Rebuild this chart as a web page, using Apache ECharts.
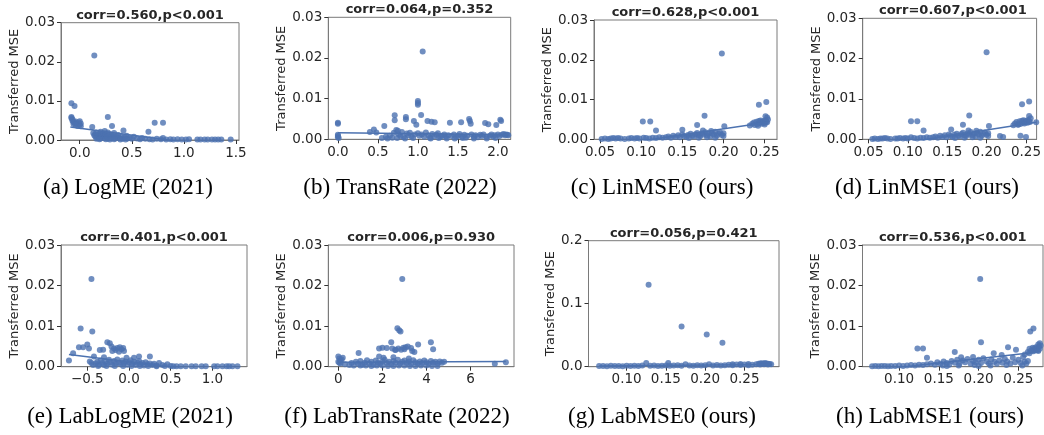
<!DOCTYPE html>
<html>
<head>
<meta charset="utf-8">
<script src="https://cdn.jsdelivr.net/npm/echarts@6/dist/echarts.min.js"></script>
<style>
html,body{margin:0;padding:0;background:#fff;}
#c{width:1044px;height:435px;}
</style>
</head>
<body>
<div id="c"></div>
<script>
// ---- Data ----
const corrTitles = ["corr=0.560,p<0.001","corr=0.064,p=0.352","corr=0.628,p<0.001","corr=0.607,p<0.001",
                    "corr=0.401,p<0.001","corr=0.006,p=0.930","corr=0.056,p=0.421","corr=0.536,p<0.001"];
const captions = ["(a) LogME (2021)","(b) TransRate (2022)","(c) LinMSE0 (ours)","(d) LinMSE1 (ours)",
                  "(e) LabLogME (2021)","(f) LabTransRate (2022)","(g) LabMSE0 (ours)","(h) LabMSE1 (ours)"];
const yLabel = "Transferred MSE";

const xTicksA = [0, 0.5, 1.0, 1.5];
const xTicksB = [0, 0.5, 1.0, 1.5, 2.0];
const xTicksC = [0.05, 0.10, 0.15, 0.20, 0.25];
const xTicksD = [0.05, 0.10, 0.15, 0.20, 0.25];
const xTicksE = [-0.5, 0, 0.5, 1.0];
const xTicksF = [0, 2, 4, 6];
const xTicksG = [0.10, 0.15, 0.20, 0.25];
const xTicksH = [0.10, 0.15, 0.20, 0.25];

const ptsA = [[-0.08,0.0094],[-0.05,0.0087],[-0.08,0.0059],[-0.08,0.0056],[-0.07,0.0053],[-0.07,0.0049],[-0.06,0.0046],[-0.05,0.0044],[-0.04,0.0047],[-0.03,0.0043],[-0.02,0.0041],[-0.01,0.0045],[0.0,0.0048],[0.0,0.0039],[0.01,0.0042],[-0.06,0.0041],[-0.04,0.0039],[-0.02,0.0036],[0.01,0.0035],
[0.14,0.0216],[0.12,0.0033],[0.27,0.0059],[0.31,0.0036],[0.42,0.0024],[0.66,0.0021],[0.72,0.0044],[0.8,0.0044],[0.24,0.0023],[0.2,0.0021],
[0.13,0.0018],[0.14,0.0012],[0.15,0.0015],[0.15,0.0009],[0.16,0.0019],[0.17,0.0011],[0.17,0.0006],[0.18,0.0014],[0.19,0.0008],[0.2,0.0016],[0.2,0.0004],[0.21,0.0012],[0.22,0.0009],[0.23,0.0017],[0.23,0.0005],[0.24,0.0011],[0.25,0.0014],[0.26,0.0007],[0.27,0.0019],[0.27,0.0003],[0.28,0.001],[0.29,0.0015],[0.3,0.0006],[0.31,0.0012],[0.32,0.0008],[0.33,0.0018],[0.34,0.0004],[0.35,0.001],[0.36,0.0007],[0.37,0.0013],[0.38,0.0005],[0.4,0.0009],[0.41,0.0003],[0.43,0.0007],[0.45,0.0011],[0.46,0.0004],[0.48,0.0006],[0.5,0.0003],[0.52,0.0008],[0.55,0.0004],[0.58,0.0002],[0.6,0.0005],[0.63,0.0003],[0.16,0.0003],[0.19,0.0002],[0.25,0.0002],[0.29,0.0001],[0.33,0.0002],[0.39,0.0001],[0.44,0.0001],
[0.67,0.0002],[0.7,0.0001],[0.74,0.0003],[0.78,0.0002],[0.8,0.0005],[0.83,0.0001],[0.87,0.0002],[0.9,0.0001],[0.94,0.0002],[0.98,0.0001],[1.02,0.0001],[1.05,0.0002],[1.13,0.0001],[1.16,0.0001],[1.2,0.0001],[1.23,0.0001],[1.27,0.0001],[1.3,0.0001],[1.33,0.0001],[1.36,0.0001],[1.45,0.0001]];
const lineA = [[-0.09,0.0033],[1.45,-0.0021]];

const ptsB = [[0.0,0.0041],[0.0,0.0038],[0.0,0.0011],[0.0,0.0008],[0.0,0.0005],[0.01,0.0003],
[0.4,0.0018],[0.45,0.0024],[0.48,0.0017],[0.55,0.0003],[0.58,0.0033],[0.6,0.0006],[0.65,0.0009],[0.68,0.0004],[0.7,0.0016],[0.71,0.0059],[0.71,0.0047],[0.73,0.0023],[0.75,0.0021],[0.76,0.0012],[0.78,0.0008],[0.8,0.0018],[0.82,0.0005],[0.85,0.0055],[0.85,0.0049],[0.86,0.0014],[0.88,0.001],[0.9,0.0016],[0.92,0.0007],[0.95,0.0045],[0.96,0.0012],[0.98,0.0036],[1.0,0.0094],[1.0,0.0089],[1.0,0.0085],[1.0,0.0015],[1.02,0.0009],[1.04,0.006],[1.06,0.0216],[1.05,0.0012],[1.08,0.0006],[1.1,0.0017],[1.12,0.0045],[1.13,0.001],[1.15,0.0004],[1.17,0.0043],[1.18,0.0013],[1.2,0.0007],[1.21,0.0042],[1.23,0.0011],[1.25,0.0015],[1.28,0.0005],[1.3,0.0009],[1.33,0.0012],[1.35,0.0006],[1.38,0.001],[1.4,0.0041],[1.42,0.0008],[1.45,0.0012],[1.48,0.0005],[1.5,0.0009],[1.52,0.0013],[1.54,0.0042],[1.55,0.0007],[1.58,0.0011],[1.6,0.0004],[1.62,0.0009],[1.64,0.005],[1.65,0.0045],[1.66,0.0038],[1.67,0.0012],[1.7,0.0007],[1.72,0.001],[1.75,0.0005],[1.78,0.0011],[1.8,0.0008],[1.82,0.0012],[1.84,0.004],[1.86,0.0006],[1.88,0.0037],[1.9,0.0009],[1.92,0.0012],[1.94,0.0007],[1.96,0.001],[1.98,0.0035],[2.0,0.0012],[2.02,0.0008],[2.03,0.0048],[2.04,0.0045],[2.05,0.0011],[2.07,0.0013],[2.09,0.001],[2.1,0.0012],[2.12,0.0011],[2.13,0.001],
[0.62,0.0002],[0.74,0.0003],[0.84,0.0002],[0.94,0.0003],[1.16,0.0002],[1.26,0.0003],[1.36,0.0002],[1.46,0.0002],[1.56,0.0003],[1.7,0.0002],[1.86,0.0002],[1.97,0.0003]];
const lineB = [[0.0,0.0016],[2.13,0.0011]];

const ptsC = [[0.052,0.0001],[0.056,0.0002],[0.06,0.0001],[0.063,0.0002],[0.066,0.0003],[0.069,0.0002],[0.072,0.0003],[0.075,0.0002],[0.08,0.0001],[0.085,0.0002],[0.088,0.0003],[0.092,0.0002],[0.095,0.0003],[0.098,0.0002],[0.103,0.0004],[0.106,0.0003],[0.11,0.0002],[0.114,0.0004],[0.118,0.0003],[0.122,0.0005],[0.126,0.0004],
[0.102,0.0045],[0.111,0.0045],[0.118,0.0022],[0.15,0.0024],[0.168,0.0036],[0.177,0.0059],[0.198,0.0216],[0.201,0.0033],[0.243,0.0087],[0.252,0.0094],[0.251,0.0058],[0.253,0.0055],
[0.13,0.0005],[0.133,0.0007],[0.136,0.0004],[0.139,0.0009],[0.142,0.0006],[0.145,0.001],[0.147,0.0005],[0.15,0.0012],[0.152,0.0008],[0.155,0.0006],[0.157,0.0011],[0.16,0.0014],[0.162,0.0009],[0.164,0.0007],[0.166,0.0013],[0.168,0.0016],[0.17,0.001],[0.172,0.0008],[0.174,0.0015],[0.176,0.0012],[0.178,0.0018],[0.18,0.001],[0.182,0.0014],[0.184,0.0007],[0.186,0.0016],[0.188,0.0012],[0.19,0.0019],[0.192,0.0009],[0.194,0.0014],[0.196,0.0017],[0.198,0.0011],[0.2,0.0015],[0.2,0.0008],[0.158,0.0003],[0.17,0.0004],[0.18,0.0005],[0.19,0.0004],[0.185,0.0021],[0.175,0.0022],
[0.232,0.0035],[0.235,0.0039],[0.237,0.0042],[0.238,0.0036],[0.24,0.0044],[0.241,0.0038],[0.243,0.0046],[0.244,0.0041],[0.245,0.0047],[0.246,0.0039],[0.247,0.0044],[0.248,0.0042],[0.249,0.0046],[0.25,0.0041],[0.251,0.0048],[0.252,0.0044],[0.253,0.0043],[0.254,0.005],[0.25,0.0037],[0.242,0.0034]];
const lineC = [[0.052,-0.0019],[0.254,0.0043]];

const ptsD = [[0.055,0.0001],[0.058,0.0002],[0.062,0.0001],[0.065,0.0002],[0.068,0.0002],[0.071,0.0003],[0.074,0.0002],[0.078,0.0001],[0.084,0.0002],[0.087,0.0002],[0.09,0.0003],[0.094,0.0002],[0.097,0.0003],[0.1,0.0002],[0.104,0.0005],[0.108,0.0003],[0.112,0.0002],[0.116,0.0004],[0.12,0.0003],[0.124,0.0005],[0.128,0.0004],
[0.104,0.0045],[0.112,0.0045],[0.12,0.0022],[0.155,0.0024],[0.17,0.0036],[0.178,0.0059],[0.2,0.0216],[0.203,0.0033],[0.245,0.0087],[0.254,0.0094],[0.254,0.0058],[0.263,0.0042],[0.217,0.0008],[0.221,0.0006],[0.243,0.0009],[0.25,0.0006],[0.24,0.0037],
[0.132,0.0005],[0.135,0.0007],[0.138,0.0004],[0.141,0.0009],[0.144,0.0006],[0.147,0.001],[0.149,0.0005],[0.152,0.0012],[0.154,0.0008],[0.157,0.0006],[0.159,0.0011],[0.162,0.0014],[0.164,0.0009],[0.166,0.0007],[0.168,0.0013],[0.17,0.0016],[0.172,0.001],[0.174,0.0008],[0.176,0.0015],[0.178,0.0012],[0.18,0.0018],[0.182,0.001],[0.184,0.0014],[0.186,0.0007],[0.188,0.0016],[0.19,0.0012],[0.192,0.0019],[0.194,0.0009],[0.196,0.0014],[0.198,0.0017],[0.2,0.0011],[0.202,0.0015],[0.202,0.0008],[0.16,0.0003],[0.172,0.0004],[0.182,0.0005],[0.192,0.0004],[0.187,0.0021],[0.177,0.0022],
[0.234,0.0035],[0.236,0.0039],[0.238,0.0043],[0.24,0.0036],[0.242,0.0045],[0.243,0.0038],[0.245,0.0046],[0.246,0.0041],[0.247,0.0047],[0.248,0.0039],[0.249,0.0044],[0.25,0.0042],[0.251,0.0046],[0.252,0.0041],[0.253,0.0048],[0.254,0.0044],[0.255,0.0043],[0.256,0.0052]];
const lineD = [[0.055,-0.0021],[0.263,0.0042]];

const ptsE = [[-0.72,0.0015],[-0.67,0.0033],[-0.6,0.0048],[-0.58,0.0094],[-0.55,0.0048],[-0.5,0.0055],[-0.48,0.0045],[-0.45,0.0216],[-0.44,0.0087],[-0.42,0.0025],[-0.47,0.0013],[-0.45,0.0009],[-0.43,0.0004],[-0.35,0.0041],[-0.31,0.0042],[-0.26,0.006],[-0.23,0.0058],[-0.21,0.005],[-0.18,0.0045],[-0.16,0.0041],[-0.14,0.0046],[-0.11,0.0048],[-0.09,0.0043],[-0.07,0.0046],[-0.06,0.0039],[-0.12,0.0037],[-0.2,0.0039],[0.12,0.0025],[0.25,0.0025],[0.06,0.0022],[-0.3,0.0023],[-0.03,0.0022],
[-0.4,0.0008],[-0.38,0.0012],[-0.36,0.0005],[-0.34,0.0015],[-0.32,0.0009],[-0.3,0.0004],[-0.28,0.0013],[-0.26,0.0007],[-0.24,0.0017],[-0.22,0.0011],[-0.2,0.0005],[-0.18,0.0014],[-0.16,0.0008],[-0.14,0.0018],[-0.12,0.001],[-0.1,0.0006],[-0.08,0.0015],[-0.06,0.0009],[-0.04,0.0013],[-0.02,0.0005],[0.0,0.0011],[0.02,0.0016],[0.04,0.0007],[0.06,0.0012],[0.08,0.0004],[0.1,0.001],[0.12,0.0014],[0.14,0.0006],[0.16,0.0009],[0.18,0.0003],[0.2,0.0011],[0.22,0.0006],[0.25,0.0008],[0.28,0.0004],[0.3,0.0007],[0.33,0.0003],[0.36,0.0009],[0.4,0.0004],[0.43,0.0002],[0.46,0.0006],[-0.37,0.0002],[-0.27,0.0002],[-0.17,0.0002],[-0.07,0.0002],[0.03,0.0002],[0.13,0.0002],[0.23,0.0002],[0.33,0.0001],
[0.5,0.0002],[0.53,0.0001],[0.57,0.0001],[0.62,0.0001],[0.68,0.0001],[0.75,0.0001],[0.8,0.0001],[0.87,0.0001],[0.92,0.0001],[1.02,0.0001],[1.06,0.0001],[1.12,0.0001],[1.17,0.0001],[1.2,0.0001],[1.24,0.0001],[1.3,0.0001]];
const lineE = [[-0.72,0.003],[1.3,-0.0021]];

const ptsF = [[0.0,0.0025],[0.05,0.002],[0.1,0.0015],[0.0,0.0012],[0.15,0.0018],[0.2,0.0022],[0.05,0.001],[0.1,0.0008],[0.92,0.0034],[1.85,0.0045],[2.0,0.0047],[2.2,0.0046],[2.4,0.006],[2.45,0.0045],[2.6,0.0042],[2.68,0.0095],[2.76,0.009],[2.82,0.0087],[2.9,0.0216],[2.72,0.0045],[2.85,0.0042],[2.95,0.0047],[3.05,0.0048],[3.15,0.005],[3.3,0.0046],[3.35,0.0039],[3.45,0.0036],[3.62,0.0055],[4.2,0.006],[4.3,0.0043],[2.05,0.0022],[2.5,0.0023],[3.2,0.002],[1.85,0.0025],[2.58,0.0041],[3.0,0.0043],
[0.3,0.0006],[0.5,0.0004],[0.6,0.0009],[0.7,0.0003],[0.8,0.0012],[0.9,0.0007],[1.0,0.0014],[1.1,0.0005],[1.2,0.001],[1.3,0.0016],[1.4,0.0008],[1.5,0.0012],[1.6,0.0005],[1.7,0.0015],[1.8,0.001],[1.9,0.0007],[2.0,0.0013],[2.1,0.0017],[2.2,0.0009],[2.3,0.0012],[2.4,0.0006],[2.5,0.0014],[2.6,0.001],[2.7,0.0017],[2.8,0.0008],[2.9,0.0012],[3.0,0.0015],[3.1,0.0009],[3.2,0.0013],[3.3,0.0007],[3.4,0.0016],[3.5,0.0011],[3.6,0.0008],[3.7,0.0013],[3.8,0.0009],[3.9,0.0015],[4.0,0.0011],[4.1,0.0007],[4.2,0.0014],[4.3,0.001],[4.4,0.0012],[4.5,0.0008],[4.6,0.0013],[4.7,0.001],[4.8,0.0012],[1.0,0.0003],[1.5,0.0002],[2.0,0.0003],[2.5,0.0002],[3.0,0.0003],[3.5,0.0002],[4.0,0.0003],[4.5,0.0002],[1.25,0.0003],[1.75,0.0003],[2.25,0.0002],[2.75,0.0003],[3.25,0.0002],[3.75,0.0003],[4.25,0.0002],
[7.1,0.0007],[7.6,0.0011]];
const lineF = [[0.0,0.0011],[7.6,0.0013]];

const ptsG = [[0.128,0.13],[0.17,0.064],[0.202,0.051],[0.222,0.038],[0.125,0.006],[0.153,0.006],[0.175,0.004],[0.205,0.004],
[0.065,0.001],[0.07,0.0012],[0.075,0.0008],[0.08,0.0015],[0.085,0.001],[0.09,0.0013],[0.095,0.0009],[0.1,0.0014],[0.105,0.0011],[0.11,0.0016],[0.115,0.0012],[0.12,0.0018],[0.13,0.0015],[0.135,0.002],[0.14,0.0013],[0.145,0.0017],[0.15,0.0021],[0.155,0.0014],[0.16,0.0019],[0.165,0.0023],[0.17,0.0016],[0.18,0.002],[0.185,0.0017],[0.19,0.0024],[0.195,0.0018],[0.2,0.0022],[0.21,0.0019],[0.215,0.0026],[0.22,0.002],[0.225,0.0025],[0.23,0.0032],[0.235,0.0022],[0.24,0.0035],[0.245,0.0027],[0.25,0.0033],[0.255,0.0024],[0.26,0.003],[0.265,0.0038],[0.268,0.0045],[0.27,0.005],[0.272,0.0055],[0.274,0.0048],[0.276,0.0058],[0.278,0.0052],[0.28,0.0046],[0.282,0.0043],[0.284,0.004],[0.27,0.0035],[0.275,0.0038],[0.28,0.0033],[0.235,0.004],[0.245,0.0042],[0.255,0.0041]];
const lineG = [[0.065,0.0012],[0.285,0.0035]];

const ptsH = [[0.066,0.0001],[0.07,0.0002],[0.074,0.0001],[0.078,0.0002],[0.082,0.0002],[0.086,0.0001],[0.09,0.0002],[0.095,0.0002],[0.1,0.0003],[0.105,0.0002],[0.11,0.0003],[0.115,0.0004],[0.12,0.0003],[0.125,0.0005],[0.13,0.0004],[0.135,0.0006],
[0.123,0.0045],[0.13,0.0045],[0.135,0.0022],[0.17,0.0036],[0.178,0.0023],[0.202,0.0216],[0.203,0.006],[0.219,0.0033],[0.237,0.0048],[0.247,0.0042],[0.265,0.0087],[0.269,0.0094],[0.277,0.0058],[0.275,0.0055],[0.193,0.0024],[0.229,0.0029],
[0.14,0.0008],[0.145,0.0005],[0.148,0.0011],[0.152,0.0007],[0.156,0.0013],[0.16,0.0009],[0.163,0.0005],[0.166,0.0014],[0.17,0.001],[0.173,0.0017],[0.176,0.0008],[0.18,0.0015],[0.183,0.0011],[0.186,0.0019],[0.19,0.0007],[0.193,0.0014],[0.196,0.0011],[0.2,0.0017],[0.203,0.0009],[0.206,0.0021],[0.21,0.0013],[0.213,0.0008],[0.216,0.0018],[0.22,0.0012],[0.223,0.0007],[0.226,0.0015],[0.23,0.001],[0.233,0.0019],[0.236,0.0013],[0.24,0.0008],[0.243,0.0022],[0.246,0.0011],[0.25,0.0017],[0.253,0.0009],[0.256,0.0024],[0.258,0.0012],[0.26,0.0008],[0.262,0.0014],[0.155,0.0003],[0.175,0.0003],[0.195,0.0004],[0.215,0.0003],[0.235,0.0004],[0.255,0.0003],[0.16,0.0002],[0.2,0.0002],
[0.262,0.0036],[0.264,0.0044],[0.266,0.004],[0.268,0.0047],[0.269,0.0038],[0.27,0.0045],[0.271,0.0042],[0.272,0.0048],[0.273,0.0041],[0.274,0.0046],[0.275,0.0039],[0.276,0.0049],[0.277,0.0044],[0.278,0.0052],[0.264,0.0033],[0.258,0.003]];
const lineH = [[0.066,-0.0009],[0.278,0.0037]];

// ---- Layout ----
const panels = [
  {pts: ptsA, line: lineA, ticks: xTicksA, xmin: -0.18, xmax: 1.53, dec: 1, ymax: 0.03, ydec: 2, grid: [61, 22.7, 178, 117.3], gap: 37, cap: [128, 188]},
  {pts: ptsB, line: lineB, ticks: xTicksB, xmin: -0.12, xmax: 2.16, dec: 1, ymax: 0.03, ydec: 2, grid: [328.3, 17.3, 182.4, 122], gap: 36, cap: [400, 188]},
  {pts: ptsC, line: lineC, ticks: xTicksC, xmin: 0.0427, xmax: 0.265, dec: 2, ymax: 0.03, ydec: 2, grid: [594, 20, 183, 119.3], gap: 35, cap: [662, 188]},
  {pts: ptsD, line: lineD, ticks: xTicksD, xmin: 0.0427, xmax: 0.2635, dec: 2, ymax: 0.03, ydec: 2, grid: [862.7, 18.3, 180.3, 121], gap: 38, cap: [927, 188]},
  {pts: ptsE, line: lineE, ticks: xTicksE, xmin: -0.815, xmax: 1.414, dec: 1, ymax: 0.03, ydec: 2, grid: [61, 245, 186, 121.7], gap: 37, cap: [130, 416.7]},
  {pts: ptsF, line: lineF, ticks: xTicksF, xmin: -0.455, xmax: 7.97, dec: 0, ymax: 0.03, ydec: 2, grid: [328.3, 245, 185.7, 121.7], gap: 36, cap: [397, 416.7]},
  {pts: ptsG, line: lineG, ticks: xTicksG, xmin: 0.0515, xmax: 0.294, dec: 2, ymax: 0.2, ydec: 1, grid: [588.5, 240.7, 190.5, 126], gap: 31, cap: [662, 416.7]},
  {pts: ptsH, line: lineH, ticks: xTicksH, xmin: 0.0539, xmax: 0.281, dec: 2, ymax: 0.03, ydec: 2, grid: [862.5, 245, 180.5, 121.7], gap: 38, cap: [930, 416.7]}
];

const BLUE = '#4c72b0';
const SPINE = '#7a7a7a';
const TXT = '#262626';
const SANS = 'DejaVu Sans';
const TICKFS = 13.5;

const fmt = (v, d) => {
  const s = Math.abs(v).toFixed(d);
  return (v < -1e-12 ? '\u2212' : '') + s;
};

const option = {
  animation: false,
  backgroundColor: '#fff',
  grid: [], xAxis: [], yAxis: [], series: [], graphic: []
};

panels.forEach((p, i) => {
  const [l, t, w, h] = p.grid;
  option.grid.push({left: l, top: t, width: w, height: h, show: true, borderColor: SPINE, borderWidth: 1, backgroundColor: 'transparent', containLabel: false});
  option.xAxis.push({
    type: 'value', gridIndex: i, min: p.xmin, max: p.xmax,
    axisLine: {show: true, onZero: false, lineStyle: {color: SPINE, width: 1}},
    axisTick: {show: true, length: 4, lineStyle: {color: '#333'}, customValues: p.ticks},
    axisLabel: {show: true, margin: 6, color: TXT, fontFamily: SANS, fontSize: TICKFS, customValues: p.ticks,
                formatter: v => fmt(v, p.dec)},
    splitLine: {show: false}
  });
  const yt = p.ymax === 0.2 ? [0, 0.1, 0.2] : [0, 0.01, 0.02, 0.03];
  option.yAxis.push({
    type: 'value', gridIndex: i, min: 0, max: p.ymax,
    name: yLabel, nameLocation: 'middle', nameGap: p.gap, nameRotate: 90,
    nameTextStyle: {color: TXT, fontFamily: SANS, fontSize: 13},
    axisLine: {show: true, onZero: false, lineStyle: {color: SPINE, width: 1}},
    axisTick: {show: true, length: 4, lineStyle: {color: '#333'}, customValues: yt},
    axisLabel: {show: true, margin: 6, color: TXT, fontFamily: SANS, fontSize: TICKFS, customValues: yt,
                formatter: v => fmt(v, p.ydec)},
    splitLine: {show: false}
  });
  option.series.push({
    type: 'scatter', xAxisIndex: i, yAxisIndex: i, data: p.pts,
    symbolSize: 6, itemStyle: {color: BLUE, opacity: 0.8}, silent: true
  });
  option.series.push({
    type: 'line', xAxisIndex: i, yAxisIndex: i, data: p.line, clip: true,
    symbol: 'none', lineStyle: {color: BLUE, width: 1.5}, silent: true, z: 3
  });
  option.graphic.push({
    type: 'text', x: l + w / 2, y: t - 7.5,
    style: {text: corrTitles[i], fill: TXT, font: 'bold 13px "DejaVu Sans"', textAlign: 'center', textVerticalAlign: 'middle'}
  });
  option.graphic.push({
    type: 'text', x: p.cap[0], y: p.cap[1],
    style: {text: captions[i], fill: '#000', font: '23px "Liberation Serif"', textAlign: 'center', textVerticalAlign: 'middle'}
  });
});

const chart = echarts.init(document.getElementById('c'), null, {renderer: 'canvas'});
chart.setOption(option);
</script>
</body>
</html>
